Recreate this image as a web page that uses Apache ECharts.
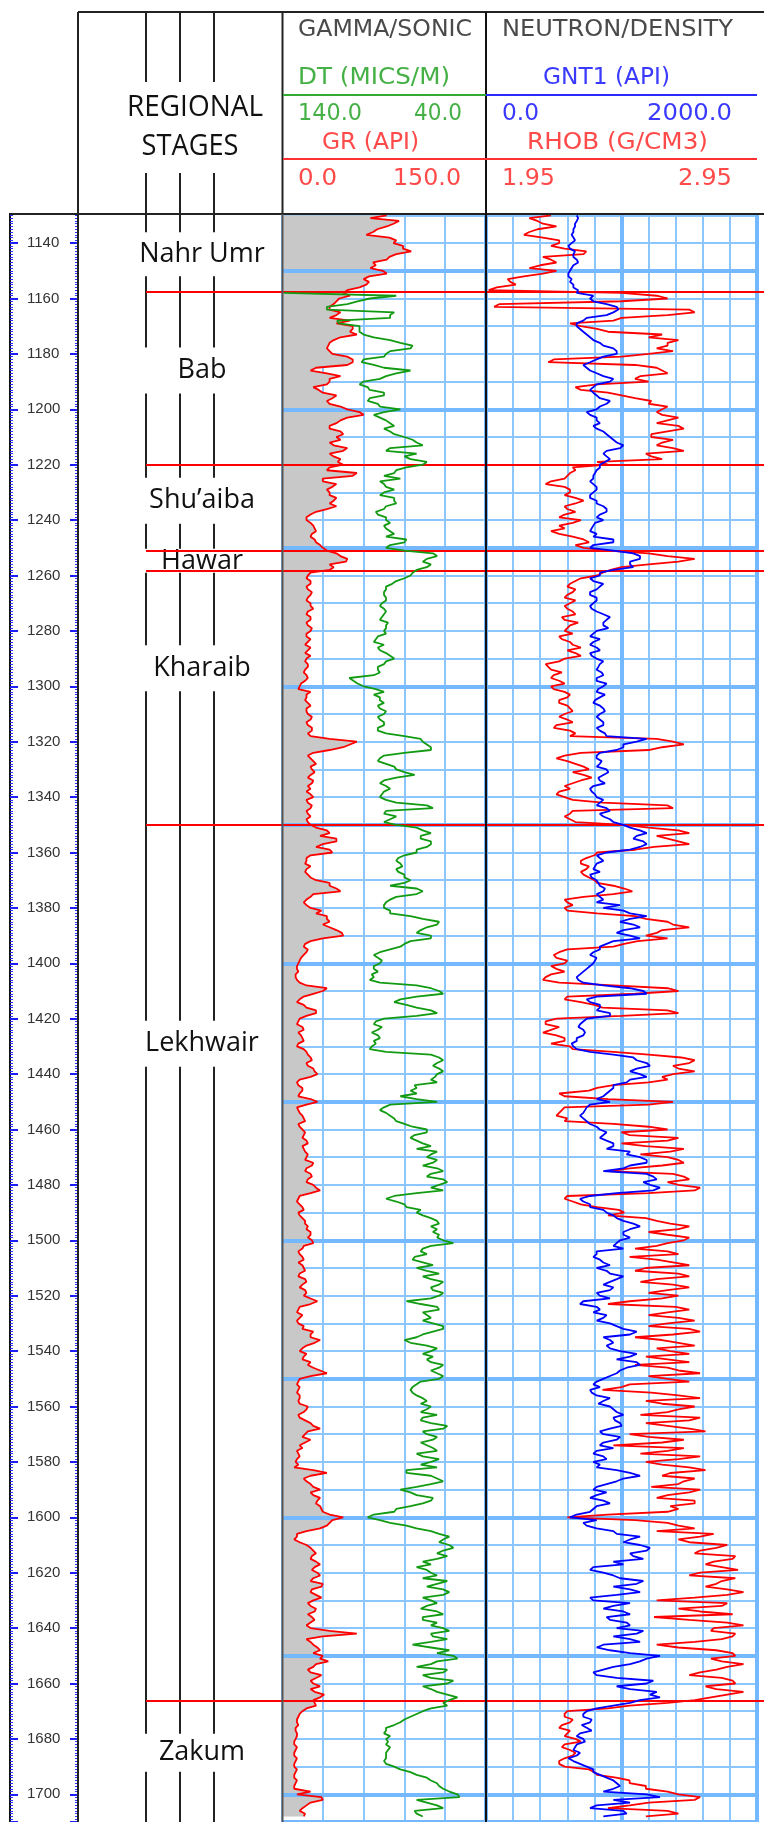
<!DOCTYPE html>
<html><head><meta charset="utf-8">
<script src="https://cdn.jsdelivr.net/npm/echarts/dist/echarts.min.js"></script>
<style>html,body{margin:0;padding:0;background:#fff;}#c{width:764px;height:1822px;}</style>
</head><body><div id="c"></div><script>
// Even-metre samples start at 1130 m, odd-metre samples at 1131 m, 2 m apart each.
const DEPTH_START = 1130;
const DEPTH_STEP = 2;

// Gamma ray, API (0-150)
const GR = [
77,86,77,67,79,82,89,84,77,69, 74,64,64,57,45,42,38,35,40,50,
52,50,43,35,33,37,52,48,21,43, 35,23,30,37,35,48,60,43,35,43,
40,35,48,35,43,45,33,52,30,37, 35,40,35,33,21,18,23,25,21,25,
30,40,48,35,35,19,21,18,22,19, 21,23,18,21,19,21,18,19,21,17,
18,19,17,18,17,13,21,18,19,18, 19,21,19,22,21,55,45,23,21,25,
22,21,23,19,18,23,19,21,19,18, 21,33,28,40,25,37,18,17,18,19,
25,35,43,21,16,21,25,33,30,40, 45,21,16,18,14,12,11,10,11,18,
30,16,11,18,25,13,11,16,14,16, 11,18,21,18,23,26,13,12,15,12,
26,11,13,16,12,15,16,18,15,17, 18,23,18,21,19,23,28,13,11,15,
12,15,17,18,21,22,16,12,15,12, 16,13,17,15,17,16,26,13,11,13,
12,15,21,28,18,13,16,21,23,33, 13,11,12,13,12,19,16,13,21,28,
17,21,13,11,13,10,9,33,16,21, 28,23,26,28,30,45,35,28,11,9,
18,23,22,25,24,26,23,30,22,25, 23,21,24,22,21,21,55,18,23,28,
30,34,23,21,25,23,21,31,23,25, 15,12,11,10,11,10,9,10,9,10,
9,10,9,10,9,11,30,18,13,16
];
const GR_ODD = [
65,82,70,62,84,89,95,79,67,65, 77,60,62,48,50,40,35,43,35,40,
52,55,38,34,35,48,52,25,33,35, 33,27,40,33,43,57,48,40,35,45,
43,38,45,38,41,35,55,30,40,33, 35,38,40,25,18,21,24,22,24,28,
33,43,47,38,21,18,21,19,21,18, 21,19,21,18,22,18,21,17,19,21,
17,19,16,19,14,12,18,17,21,18, 22,18,22,19,35,50,35,19,23,21,
24,19,22,21,21,18,22,18,21,19, 25,35,40,30,35,21,18,21,17,21,
35,40,23,18,18,29,33,35,35,44, 30,17,19,16,13,11,12,10,13,33,
23,13,16,25,18,12,15,12,15,12, 16,19,22,19,24,21,11,15,13,21,
18,12,15,17,13,17,15,19,16,19, 17,22,17,22,18,25,21,12,13,16,
13,17,19,21,19,23,15,13,16,15, 17,12,18,13,18,21,21,12,15,11,
16,23,21,24,15,18,15,19,28,21, 12,13,11,13,13,18,12,17,23,19,
15,17,15,12,11,12,23,21,18,23, 21,28,25,29,35,37,33,18,11,13,
21,25,21,28,22,28,21,29,21,29, 19,25,19,24,18,35,30,21,26,23,
28,25,19,29,21,28,24,28,24,18, 13,11,12,10,11,9,11,9,11,9,
11,9,11,9,21,29,21,15,17
];

// Sonic DT, MICS/M (140 left -> 40 right)
const DT = [
null,null,null,null,null,null,null,null,null,null, null,null,null,null,139,97,108,118,87,113,
102,102,95,82,77,89,100,95,77,89, 100,98,90,97,93,82,95,89,85,87,
80,74,87,74,77,71,84,90,92,89, 90,85,84,90,93,89,90,87,89,80,
89,66,69,67,74,77,84,89,90,89, 91,90,90,92,89,90,93,95,93,89,
85,90,93,95,105,100,90,92,90,92, 90,92,90,93,80,71,67,80,92,89,
84,75,90,89,90,92,84,66,90,87, 84,71,72,67,69,74,83,82,84,80,
77,87,71,84,89,90,87,71,64,72, 67,77,82,92,93,92,95,96,97,74,
63,74,85,74,64,90,95,93,93,95, 96,89,63,64,63,64,67,75,77,82,
64,90,89,85,80,69,75,74,67,64, 69,66,64,67,61,63,61,85,84,79,
74,67,63,64,63,61,67,72,75,71, 74,63,67,63,66,63,79,64,71,67,
66,61,71,80,69,67,66,67,63,64, 63,74,77,74,69,67,72,71,67,61,
69,66,69,64,71,67,64,79,64,67, 82,74,67,77,85,98,87,74,63,61,
58,61,59,71,74,67,71,64,61,61, 67,69,64,71,64,61,67,59,76,58,
56,64,74,61,67,59,67,59,58,59, 71,77,82,89,90,89,89,88,89,90,
85,77,69,64,61,54,74,64,75,71
];
const DT_ODD = [
null,null,null,null,null,null,null,null,null,null, null,null,null,null,84,103,118,85,87,112,
102,100,87,76,87,90,101,90,84,92, 102,97,90,98,92,90,92,87,90,85,
76,71,89,80,69,79,85,82,90,85, 92,85,89,94,89,87,89,85,79,87,
80,64,71,69,76,80,86,89,90,89, 92,89,91,88,89,89,94,90,92,87,
89,93,92,107,103,94,95,92,93,89, 93,90,93,89,72,69,67,90,93,85,
80,84,92,87,91,89,69,89,84,90, 74,67,72,67,74,80,84,81,83,80,
80,74,74,87,90,87,77,63,69,74, 67,80,87,95,91,95,93,95,92,67,
61,82,79,67,74,94,91,96,92,94, 97,67,61,66,61,65,64,74,74,74,
87,92,87,84,76,69,77,71,74,67, 64,71,61,69,59,67,74,89,80,72,
71,64,67,66,64,56,71,69,76,66, 69,71,61,67,61,67,72,63,69,71,
61,66,74,77,64,71,69,61,67,61, 72,76,76,71,72,69,64,72,59,71,
64,72,66,74,63,72,79,67,61,74, 77,66,71,84,95,92,79,67,58,63,
56,64,64,67,69,64,59,69,58,71, 64,72,61,71,67,58,66,67,67,64,
54,67,59,71,56,71,64,54,61,67, 74,80,85,89,87,88,87,89,89,89,
82,74,67,63,58,53,69,61,74
];

// Neutron GNT1, API (0-2000)
const GNT1 = [
670,670,657,645,645,632,620,645,670,645, 620,608,620,645,670,768,890,977,890,718,
670,718,768,840,940,965,816,718,768,866, 915,792,792,840,890,816,768,816,792,866,
915,965,990,866,915,840,816,792,768,816, 792,768,816,890,840,866,792,768,792,940,
768,1087,1136,1063,940,840,792,840,768,816, 792,780,866,890,866,816,768,792,816,768,
816,840,816,866,816,866,816,840,792,866, 840,840,866,840,890,1112,1014,840,816,840,
890,866,840,792,780,816,840,890,840,915, 1014,1136,1112,1161,1136,890,840,816,792,768,
816,840,866,840,816,866,1063,1063,1087,1014, 1063,940,840,792,816,792,743,694,682,866,
1161,816,768,840,915,743,694,718,718,670, 645,768,1087,1186,1112,1136,1063,940,915,866,
915,743,718,718,768,840,866,890,940,1063, 1136,1186,1014,1186,1260,1210,1235,768,718,768,
890,965,1087,1063,1014,990,940,816,792,866, 816,915,965,866,915,840,718,816,792,866,
915,1014,1063,915,890,990,1063,1112,1038,965, 866,792,768,816,866,915,965,940,990,915,
866,965,840,816,866,792,816,1063,1014,890, 792,816,866,816,768,620,718,816,965,1063,
1136,1186,1087,940,792,866,990,1112,1063,965, 792,940,1014,890,1038,965,1112,1063,866,915,
1284,1136,940,792,965,1186,1063,1210,1136,940, 743,718,768,743,694,718,670,645,670,645,
743,792,890,965,940,1186,940,816,1014,866
];
const GNT1_ODD = [
680,657,645,632,657,608,657,645,680,632, 608,632,645,680,792,792,964,940,743,669,
694,743,792,866,964,866,768,743,817,940, 817,768,817,915,841,743,817,841,817,890,
940,1014,890,890,878,841,805,792,792,817, 768,817,866,890,817,805,780,817,940,792,
940,1137,1063,1087,841,768,866,817,768,817, 768,817,915,866,903,792,841,768,841,780,
866,829,854,817,890,829,878,805,841,878, 817,866,817,878,1186,1014,964,817,854,817,
903,829,878,768,805,866,817,915,866,940, 1063,1186,1087,1186,1063,817,866,805,841,780,
829,878,817,866,989,1014,1186,989,1137,964, 1137,890,841,768,805,768,718,669,718,1063,
1186,743,841,817,915,718,682,731,669,632, 669,940,1112,1210,1063,1186,1038,940,890,817,
768,731,694,743,817,890,841,940,890,1038, 1186,1063,866,1235,1161,1284,964,694,768,866,
940,1014,1137,1014,1063,964,1014,817,841,915, 890,1014,915,940,817,915,694,841,890,817,
964,1112,866,940,915,1112,964,1137,989,915, 817,841,780,915,829,940,1014,952,1001,841,
989,866,940,792,890,841,964,1137,964,817, 890,768,915,792,669,817,743,940,1137,1014,
1210,1063,1161,1014,768,940,1161,940,1137,768, 1063,866,1063,915,1063,1161,940,1137,817,1063,
1186,1063,866,817,1235,964,1260,1284,1063,817, 718,780,706,780,669,731,657,694,608,694,
792,841,940,989,866,1284,1063,768,1038
];

// Bulk density RHOB, G/CM3 (1.95-2.95)
const RHOB = [
2.19,2.14,2.21,2.11,2.16,2.22,2.24,2.31,2.19,2.15, 2.21,2.09,2.04,1.99,2.45,2.62,2.00,2.70,2.62,2.42,
2.30,2.40,2.55,2.62,2.58,2.55,2.20,2.50,2.60,2.52, 2.55,2.28,2.40,2.50,2.55,2.60,2.60,2.62,2.66,2.62,
2.56,2.60,2.64,2.54,2.60,2.40,2.28,2.25,2.19,2.24, 2.26,2.28,2.28,2.25,2.24,2.30,2.22,2.19,2.27,2.33,
2.31,2.55,2.72,2.55,2.41,2.36,2.28,2.25,2.27,2.24, 2.26,2.25,2.28,2.24,2.26,2.24,2.22,2.26,2.30,2.28,
2.24,2.17,2.19,2.20,2.22,2.19,2.24,2.25,2.22,2.26, 2.24,2.25,2.21,2.26,2.26,2.64,2.60,2.30,2.21,2.28,
2.33,2.31,2.30,2.24,2.22,2.24,2.38,2.64,2.26,2.26, 2.46,2.66,2.58,2.66,2.57,2.36,2.32,2.30,2.32,2.31,
2.35,2.42,2.49,2.31,2.25,2.24,2.36,2.54,2.64,2.60, 2.54,2.51,2.42,2.22,2.21,2.24,2.21,2.19,2.16,2.42,
2.66,2.25,2.30,2.38,2.66,2.21,2.17,2.19,2.21,2.24, 2.26,2.42,2.67,2.70,2.66,2.64,2.62,2.42,2.33,2.24,
2.64,2.24,2.22,2.25,2.42,2.62,2.48,2.62,2.54,2.63, 2.62,2.68,2.48,2.64,2.70,2.66,2.72,2.25,2.27,2.36,
2.46,2.54,2.63,2.66,2.62,2.68,2.58,2.62,2.48,2.64, 2.54,2.66,2.58,2.64,2.62,2.66,2.48,2.65,2.62,2.66,
2.62,2.70,2.64,2.60,2.72,2.63,2.54,2.70,2.62,2.74, 2.62,2.48,2.38,2.66,2.54,2.72,2.62,2.74,2.54,2.70,
2.48,2.68,2.42,2.62,2.74,2.54,2.70,2.63,2.72,2.66, 2.74,2.62,2.72,2.63,2.62,2.25,2.62,2.72,2.79,2.66,
2.84,2.74,2.87,2.79,2.82,2.74,2.87,2.80,2.84,2.84, 2.58,2.82,2.74,2.57,2.84,2.79,2.87,2.82,2.58,2.80,
2.87,2.82,2.84,2.74,2.82,2.87,2.80,2.84,2.72,2.48, 2.25,2.24,2.26,2.22,2.25,2.28,2.24,2.26,2.27,2.22,
2.24,2.35,2.43,2.48,2.54,2.66,2.72,2.48,2.62,2.54
];
const RHOB_ODD = [
2.11,2.16,2.14,2.09,2.22,2.19,2.32,2.16,2.21,2.11, 2.16,2.03,2.06,1.96,2.58,2.45,1.98,2.72,2.45,2.26,
2.36,2.60,2.66,2.62,2.64,2.45,2.18,2.58,2.62,2.50, 2.36,2.30,2.45,2.56,2.62,2.58,2.66,2.58,2.68,2.56,
2.64,2.58,2.68,2.56,2.36,2.27,2.26,2.24,2.17,2.26, 2.24,2.31,2.24,2.28,2.22,2.27,2.24,2.22,2.31,2.28,
2.40,2.62,2.66,2.45,2.38,2.30,2.26,2.28,2.25,2.28, 2.24,2.27,2.23,2.29,2.25,2.27,2.23,2.27,2.25,2.30,
2.22,2.18,2.23,2.19,2.24,2.20,2.26,2.22,2.25,2.27, 2.22,2.27,2.20,2.28,2.58,2.68,2.55,2.24,2.25,2.31,
2.27,2.34,2.27,2.26,2.21,2.27,2.62,2.27,2.24,2.28, 2.55,2.70,2.62,2.70,2.50,2.35,2.30,2.33,2.30,2.33,
2.36,2.46,2.42,2.24,2.27,2.25,2.50,2.62,2.70,2.58, 2.62,2.46,2.25,2.20,2.25,2.19,2.24,2.17,2.22,2.62,
2.50,2.24,2.35,2.62,2.45,2.17,2.22,2.16,2.24,2.19, 2.27,2.55,2.72,2.64,2.72,2.60,2.55,2.36,2.22,2.40,
2.55,2.23,2.21,2.24,2.55,2.45,2.66,2.45,2.68,2.52, 2.66,2.60,2.40,2.68,2.62,2.74,2.55,2.24,2.30,2.44,
2.40,2.58,2.70,2.55,2.70,2.62,2.50,2.66,2.58,2.70, 2.50,2.70,2.52,2.70,2.55,2.60,2.40,2.70,2.55,2.72,
2.55,2.74,2.50,2.66,2.58,2.70,2.62,2.50,2.66,2.55, 2.70,2.45,2.56,2.74,2.60,2.66,2.52,2.70,2.62,2.76,
2.55,2.60,2.68,2.52,2.66,2.60,2.76,2.60,2.68,2.56, 2.70,2.58,2.72,2.66,2.40,2.50,2.66,2.58,2.74,2.70,
2.80,2.72,2.86,2.76,2.88,2.70,2.82,2.76,2.90,2.72, 2.84,2.66,2.86,2.70,2.90,2.78,2.86,2.72,2.66,2.86,
2.78,2.90,2.80,2.70,2.86,2.76,2.90,2.78,2.62,2.40, 2.24,2.27,2.23,2.26,2.24,2.30,2.23,2.28,2.24,2.22,
2.33,2.36,2.48,2.54,2.62,2.74,2.55,2.40,2.66
];

// Regional stages: label depths and boundary depths (m)
const STAGE_NAMES  = ['Nahr Umr','Bab','Shu\u2019aiba','Hawar','Kharaib','Lekhwair','Zakum'];
const STAGE_DEPTHS = [1144, 1186, 1233, 1254.7, 1293.5, 1429, 1685];
const STAGE_TOPS   = [1157.6, 1220, 1251, 1258.3, 1350, 1666.3];

// Track scales (header)
const GR_RANGE = [0, 150], DT_RANGE = [140, 40], GNT_RANGE = [0, 2000], RHOB_RANGE = [1.95, 2.95];

// ---------------- LAYOUT / STYLE ----------------
function merge(even, odd) {
  const out = [];
  for (let i = 0; i < even.length; i++) {
    if (even[i] !== null) out.push([even[i], DEPTH_START + i * DEPTH_STEP]);
    if (i < odd.length && odd[i] !== null) out.push([odd[i], DEPTH_START + 1 + i * DEPTH_STEP]);
  }
  return out;
}
const grPts = merge(GR, GR_ODD), dtPts = merge(DT, DT_ODD);
const gntPts = merge(GNT1, GNT1_ODD), rhobPts = merge(RHOB, RHOB_ODD);

const Y_MIN = 1100, Y_MAX = 1710;
const PX_M = 2.777;
const GRID_TOP = 410 - (1200 - Y_MIN) * PX_M;
const GRID_H = (Y_MAX - Y_MIN) * PX_M;
const GRID_BLUE = '#8cc6ff', GRID_BLUE_THICK = '#74b8ff';
const HDR_FONT = '23px "DejaVu Sans"';
const STAGE_GAP = [22, 23, 23, 12, 23, 23, 19];
const CURVE_W = 1.8;

function yAx(gridIndex, extra) {
  return Object.assign({
    type: 'value', gridIndex, inverse: true, min: Y_MIN, max: Y_MAX,
    axisLine: {show: false}, axisTick: {show: false}, axisLabel: {show: false}, splitLine: {show: false}
  }, extra || {});
}
function xAx(gridIndex, extra) {
  return Object.assign({
    type: 'value', gridIndex, position: 'top',
    axisLine: {show: false}, axisTick: {show: false}, axisLabel: {show: false}, splitLine: {show: false}
  }, extra || {});
}
const gridBox = (left, width) => ({left, width, top: GRID_TOP, height: GRID_H, containLabel: false});

const chart = echarts.init(document.getElementById('c'), null, {renderer: 'canvas'});
const mctx = document.createElement('canvas').getContext('2d');

const header = [];
header.push({type: 'rect', shape: {x: 0, y: 0, width: 764, height: 213}, style: {fill: '#fff'}, z: 50});
function hline(x1, y1, x2, y2, color, w) {
  header.push({type: 'line', shape: {x1, y1, x2, y2}, style: {stroke: color, lineWidth: w}, z: 60});
}
function htext(text, x, y, color, align, width, font) {
  font = font || HDR_FONT;
  mctx.font = font;
  const w = mctx.measureText(text).width || 1;
  const s = width ? width / w : 1;
  header.push({type: 'text', x, y, scaleX: s, z: 61, style: {text, x: 0, y: 0, fill: color, align,
    verticalAlign: 'middle', textAlign: align, textVerticalAlign: 'middle', font}});
}
// frame
hline(78, 12, 764, 12, '#222', 2);
hline(78, 12, 78, 1822, '#222', 2);
hline(10, 214, 764, 214, '#222', 2);
hline(282.5, 12, 282.5, 214, '#222', 2);
hline(282.5, 214, 282.5, 1822, '#555', 2);
hline(486, 12, 486, 1822, '#111', 2);
[146, 180, 214].forEach(x => { hline(x, 12, x, 82, '#222', 2); hline(x, 173, x, 214, '#222', 2); });
hline(283, 95, 486, 95, '#33aa33', 2);
hline(486, 95, 757, 95, '#2a2aff', 2);
hline(283, 159, 757, 159, '#ff3030', 2);
// header texts
htext('REGIONAL', 195, 108, '#111', 'center', 136, '29px "Open Sans"');
htext('STAGES', 190, 147, '#111', 'center', 97, '29px "Open Sans"');
htext('GAMMA/SONIC', 298, 30, '#4a4a4a', 'left', 174);
htext('DT (MICS/M)', 298, 78, '#45b045', 'left', 152);
htext(DT_RANGE[0].toFixed(1), 298, 114, '#45b045', 'left', 64);
htext(DT_RANGE[1].toFixed(1), 462, 114, '#45b045', 'right', 48);
htext('GR (API)', 322, 143, '#ff4a4a', 'left', 97);
htext(GR_RANGE[0].toFixed(1), 298, 179, '#ff4a4a', 'left', 39);
htext(GR_RANGE[1].toFixed(1), 461, 179, '#ff4a4a', 'right', 68);
htext('NEUTRON/DENSITY', 502, 30, '#4a4a4a', 'left', 231);
htext('GNT1 (API)', 543, 78, '#3a3aff', 'left', 127);
htext(GNT_RANGE[0].toFixed(1), 502, 114, '#3a3aff', 'left', 37);
htext(GNT_RANGE[1].toFixed(1), 732, 114, '#3a3aff', 'right', 85);
htext('RHOB (G/CM3)', 527, 143, '#ff4a4a', 'left', 181);
htext(RHOB_RANGE[0].toFixed(2), 502, 179, '#ff4a4a', 'left', 53);
htext(RHOB_RANGE[1].toFixed(2), 732, 179, '#ff4a4a', 'right', 54);

const depthLabel = v => (v % 20 === 0 ? String(v) : '');

const option = {
  animation: false,
  backgroundColor: '#fff',
  grid: [
    gridBox(10, 68),     // 0 depth track
    gridBox(78, 204),    // 1 stage track
    gridBox(282, 204),   // 2 gamma/sonic
    gridBox(486, 271),   // 3 neutron/density
    gridBox(146, 618)    // 4 stage tops overlay
  ],
  xAxis: [
    xAx(0, {min: 0, max: 1}),
    xAx(1, {min: 0, max: 204}),
    xAx(2, {min: GR_RANGE[0], max: GR_RANGE[1], interval: 30,
      splitLine: {show: true, lineStyle: {color: GRID_BLUE, width: 2}}}),
    xAx(2, {min: 40, max: 140, inverse: true}),
    xAx(3, {min: GNT_RANGE[0], max: GNT_RANGE[1], interval: 200,
      splitLine: {show: true, lineStyle: {color: GRID_BLUE, width: 2}}}),
    xAx(3, {min: GNT_RANGE[0], max: GNT_RANGE[1], interval: 1000,
      splitLine: {show: true, lineStyle: {color: GRID_BLUE_THICK, width: 4}}}),
    xAx(3, {min: RHOB_RANGE[0], max: RHOB_RANGE[1]}),
    xAx(4, {min: 0, max: 1})
  ],
  yAxis: [
    yAx(0, {position: 'left', interval: 20,
      axisLine: {show: true, lineStyle: {color: '#111', width: 2}},
      axisTick: {show: true, inside: true, length: 8, lineStyle: {color: '#1e1eff', width: 2}},
      minorTick: {show: true, splitNumber: 20, length: 3, lineStyle: {color: '#3030ff', width: 1}},
      axisLabel: {show: true, inside: true, margin: 17, color: '#333', fontSize: 15, showMaxLabel: false,
        formatter: depthLabel, fontFamily: '"Liberation Sans", Arial, sans-serif'}}),
    yAx(0, {position: 'right', interval: 20,
      axisLine: {show: true, lineStyle: {color: '#111', width: 2}},
      axisTick: {show: true, inside: true, length: 8, lineStyle: {color: '#1e1eff', width: 2}},
      minorTick: {show: true, splitNumber: 20, length: 3, lineStyle: {color: '#3030ff', width: 1}}}),
    yAx(1),
    yAx(2, {interval: 10, splitLine: {show: true, lineStyle: {color: GRID_BLUE, width: 2}}}),
    yAx(2, {interval: 50, z: 3, splitLine: {show: true, lineStyle: {color: GRID_BLUE_THICK, width: 4}},
      axisTick: {show: true, length: 4, lineStyle: {color: GRID_BLUE_THICK, width: 4}}}),
    yAx(3, {interval: 10, splitLine: {show: true, lineStyle: {color: GRID_BLUE, width: 2}}}),
    yAx(3, {interval: 50, z: 3, splitLine: {show: true, lineStyle: {color: GRID_BLUE_THICK, width: 4}}}),
    yAx(4)
  ],
  series: [
    { // gamma ray shading from track edge to curve
      type: 'custom', xAxisIndex: 2, yAxisIndex: 3, z: 2, silent: true,
      data: grPts,
      renderItem: function (params, api) {
        if (params.dataIndex !== 0) return null;
        const pts = [api.coord([GR_RANGE[0], grPts[0][1]])];
        for (let i = 0; i < grPts.length; i++) pts.push(api.coord(grPts[i]));
        pts.push(api.coord([GR_RANGE[0], grPts[grPts.length - 1][1]]));
        return {type: 'polygon', shape: {points: pts}, style: {fill: '#c8c8c8'}};
      }
    },
    {type: 'line', name: 'GR', xAxisIndex: 2, yAxisIndex: 3, z: 5, data: grPts, showSymbol: false,
      lineStyle: {color: '#ff0000', width: CURVE_W}},
    {type: 'line', name: 'DT', xAxisIndex: 3, yAxisIndex: 3, z: 5, data: dtPts, showSymbol: false,
      lineStyle: {color: '#129b12', width: CURVE_W}},
    {type: 'line', name: 'RHOB', xAxisIndex: 6, yAxisIndex: 5, z: 5, data: rhobPts, showSymbol: false,
      lineStyle: {color: '#ff0000', width: CURVE_W}},
    {type: 'line', name: 'GNT1', xAxisIndex: 4, yAxisIndex: 5, z: 6, data: gntPts, showSymbol: false,
      lineStyle: {color: '#0000ff', width: CURVE_W}},
    { // regional stage labels and column lines
      type: 'custom', xAxisIndex: 1, yAxisIndex: 2, z: 4, silent: true,
      data: STAGE_DEPTHS.map(d => [0, d]),
      renderItem: function (params, api) {
        const i = params.dataIndex;
        const cs = params.coordSys;
        const y = api.coord([0, STAGE_DEPTHS[i]])[1];
        const prevBottom = i === 0 ? cs.y : api.coord([0, STAGE_DEPTHS[i - 1]])[1] + STAGE_GAP[i - 1];
        const children = [];
        [68, 102, 136].forEach(dx => {
          children.push({type: 'line', shape: {x1: cs.x + dx, y1: prevBottom, x2: cs.x + dx, y2: y - STAGE_GAP[i]},
            style: {stroke: '#222', lineWidth: 2}});
          if (i === STAGE_DEPTHS.length - 1) {
            children.push({type: 'line', shape: {x1: cs.x + dx, y1: y + STAGE_GAP[i], x2: cs.x + dx, y2: cs.y + cs.height},
              style: {stroke: '#222', lineWidth: 2}});
          }
        });
        children.push({type: 'text', style: {text: STAGE_NAMES[i], x: cs.x + 124, y: y,
          align: 'center', verticalAlign: 'middle', textAlign: 'center', textVerticalAlign: 'middle',
          font: '27px "Open Sans"', fill: '#111'}});
        return {type: 'group', children};
      }
    },
    { // stage boundaries
      type: 'line', xAxisIndex: 7, yAxisIndex: 7, data: [], z: 8,
      markLine: {silent: true, symbol: ['none', 'none'], label: {show: false},
        lineStyle: {color: '#ff0000', width: 2, type: 'solid'},
        data: STAGE_TOPS.map(d => ({yAxis: d}))}
    }
  ],
  graphic: header
};
chart.setOption(option);
</script></body></html>
